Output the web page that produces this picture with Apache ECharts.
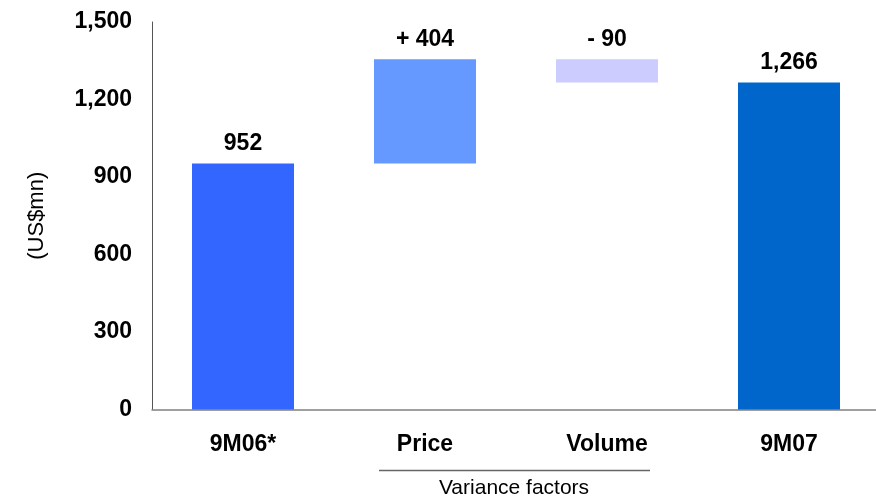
<!DOCTYPE html>
<html>
<head>
<meta charset="utf-8">
<script src="https://cdn.jsdelivr.net/npm/echarts@6/dist/echarts.min.js"></script>
<style>
  html, body { margin: 0; padding: 0; background: #fff; overflow: hidden; }
  /* the plot runs slightly past the right edge of the window */
  #chart { width: 880px; height: 499px; }
</style>
</head>
<body>
<div id="chart"></div>
<script>
// Bridge from 9M06 to 9M07 (US$mn)
const categories = ['9M06*', 'Price', 'Volume', '9M07'];
const baseValues = [0, 952, 1266, 0];        // invisible offset under each bar
const barValues = [952, 404, 90, 1266];      // visible bar heights
const signs = ['', '+ ', '- ', ''];          // prefix for the variance labels
const barColors = ['#3366FF', '#6699FF', '#CCCCFF', '#0066CC'];
const yTicks = [0, 300, 600, 900, 1200, 1500];

const FONT = '"Liberation Sans", Arial, Helvetica, sans-serif';

const chart = echarts.init(document.getElementById('chart'), null, { renderer: 'canvas' });

chart.setOption({
  animation: false,
  textStyle: { fontFamily: FONT },
  grid: { left: 152, top: 22, right: 0, bottom: 89.5, containLabel: false },
  xAxis: {
    type: 'category',
    data: categories,
    axisLine: { lineStyle: { color: '#808080', width: 1.5 } },
    axisTick: { show: false },
    axisLabel: { color: '#000', fontWeight: 'bold', fontSize: 23, margin: 24, fontFamily: FONT }
  },
  yAxis: {
    type: 'value',
    min: yTicks[0],
    max: yTicks[yTicks.length - 1],
    interval: 300,
    name: '(US$mn)',
    nameLocation: 'middle',
    nameRotate: 90,
    nameGap: 104,
    nameTextStyle: { color: '#000', fontSize: 22, fontFamily: FONT },
    axisLine: { show: true, lineStyle: { color: '#555', width: 1 } },
    axisTick: { show: false },
    splitLine: { show: false },
    axisLabel: {
      color: '#000', fontWeight: 'bold', fontSize: 23, margin: 20, fontFamily: FONT,
      formatter: v => v.toLocaleString('en-US')
    }
  },
  graphic: [
    { type: 'line', shape: { x1: 379, y1: 470.5, x2: 650, y2: 470.5 },
      style: { stroke: '#666', lineWidth: 1.5 } },
    { type: 'text', x: 514, y: 488,
      style: { text: 'Variance factors', fontSize: 21, fontFamily: FONT, fill: '#000',
               textAlign: 'center', textVerticalAlign: 'middle' } }
  ],
  series: [
    {
      type: 'bar', stack: 'bridge', barWidth: 102, silent: true,
      itemStyle: { color: 'transparent' },
      data: baseValues
    },
    {
      type: 'bar', stack: 'bridge', barWidth: 102,
      data: barValues.map((v, i) => ({ value: v, itemStyle: { color: barColors[i] } })),
      label: {
        show: true, position: 'top', distance: 8,
        color: '#000', fontWeight: 'bold', fontSize: 23, fontFamily: FONT,
        formatter: p => signs[p.dataIndex] + p.value.toLocaleString('en-US')
      }
    }
  ]
});
</script>
</body>
</html>
